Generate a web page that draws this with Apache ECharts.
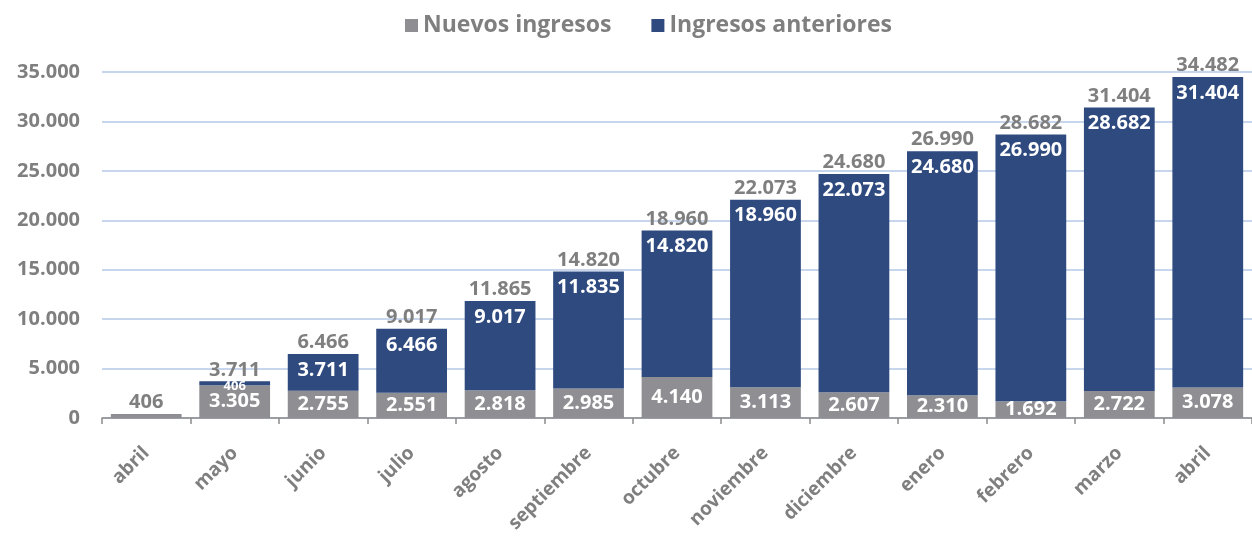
<!DOCTYPE html>
<html>
<head>
<meta charset="utf-8">
<script src="https://cdn.jsdelivr.net/npm/echarts@6/dist/echarts.min.js"></script>
<style>html,body{margin:0;padding:0;background:#fff}#c{width:1252px;height:538px}</style>
</head>
<body>
<div id="c"></div>
<script>
const categories = ['abril','mayo','junio','julio','agosto','septiembre','octubre','noviembre','diciembre','enero','febrero','marzo','abril'];
const nuevosIngresos = [406,3305,2755,2551,2818,2985,4140,3113,2607,2310,1692,2722,3078];
const ingresosAnteriores = [0,406,3711,6466,9017,11835,14820,18960,22073,24680,26990,28682,31404];
const totales = [406,3711,6466,9017,11865,14820,18960,22073,24680,26990,28682,31404,34482];
const yTicks = [0,5000,10000,15000,20000,25000,30000,35000];

const FONT = '"Open Sans", sans-serif';
const GRAY_TXT = '#7f7f7f';
const fmt = v => String(v).replace(/\B(?=(\d{3})+(?!\d))/g, '.');

const chart = echarts.init(document.getElementById('c'));
chart.setOption({
  animation: false,
  textStyle: {fontFamily: FONT},
  legend: {
    top: 9, left: 400,
    data: ['Nuevos ingresos','Ingresos anteriores'],
    itemWidth: 13, itemHeight: 13, itemGap: 40,
    icon: 'rect',
    textStyle: {fontFamily: FONT, fontSize: 23, fontWeight: 'bold', color: GRAY_TXT}
  },
  grid: {left: 102, width: 1160, top: 72, height: 346},
  xAxis: {
    type: 'category', data: categories,
    axisLine: {lineStyle: {color: '#8c8c8c', width: 1.5}},
    axisTick: {show: true, length: 6, lineStyle: {color: '#8c8c8c', width: 1.5}},
    axisLabel: {rotate: 45, fontFamily: FONT, fontSize: 19, fontWeight: 'bold', color: GRAY_TXT, margin: 32, interval: 0}
  },
  yAxis: {
    type: 'value', min: 0, max: 35000, interval: 5000,
    axisLine: {show: false}, axisTick: {show: false},
    splitLine: {lineStyle: {color: '#b4c7e7', width: 1.5}},
    axisLabel: {fontFamily: FONT, fontSize: 20, fontWeight: 'bold', color: GRAY_TXT, margin: 22,
      formatter: v => yTicks.includes(v) ? fmt(v) : ''}
  },
  series: [
    {
      name: 'Nuevos ingresos', type: 'bar', stack: 's', barCategoryGap: '20%',
      itemStyle: {color: '#8e8e93'},
      data: nuevosIngresos.map((v, i) => ({value: v, label: {show: i !== 0}})),
      label: {position: 'inside', color: '#fff', fontFamily: FONT, fontSize: 20, fontWeight: 'bold',
        formatter: p => fmt(p.value)}
    },
    {
      name: 'Ingresos anteriores', type: 'bar', stack: 's',
      itemStyle: {color: '#2e4a7f'},
      data: ingresosAnteriores.map((v, i) => ({
        value: v,
        label: i === 0 ? {show: false} : (i === 1 ? {show: true, fontSize: 13, distance: -2, position: 'insideTop'} : {show: true})
      })),
      label: {position: 'insideTop', distance: 6, color: '#fff', fontFamily: FONT, fontSize: 20, fontWeight: 'bold',
        formatter: p => fmt(p.value)}
    },
    {
      name: 'Total', type: 'line', data: totales,
      symbol: 'circle', symbolSize: 1, showSymbol: true,
      itemStyle: {color: 'rgba(0,0,0,0)'},
      lineStyle: {opacity: 0}, silent: true,
      label: {show: true, position: 'top', distance: 1, color: GRAY_TXT, fontFamily: FONT, fontSize: 20, fontWeight: 'bold',
        formatter: p => fmt(p.value)}
    }
  ]
});
</script>
</body>
</html>
